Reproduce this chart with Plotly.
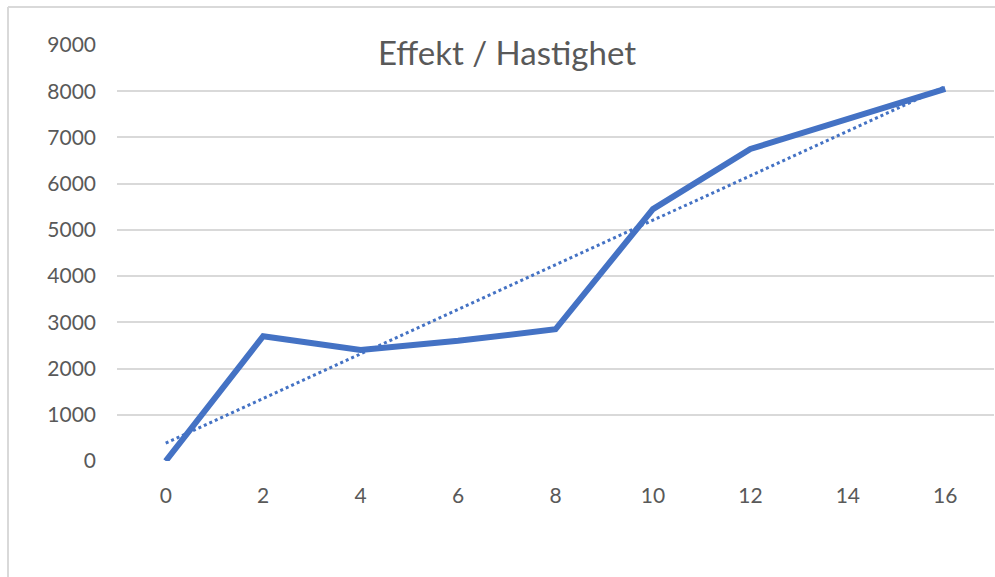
import numpy as np
import plotly.graph_objects as go

# Speed (x) vs. power (y)
hastighet = [0, 2, 4, 6, 8, 10, 12, 14, 16]
effekt = [0, 2700, 2400, 2600, 2850, 5450, 6750, 7400, 8050]
x_ticks = [0, 2, 4, 6, 8, 10, 12, 14, 16]
y_ticks = [0, 1000, 2000, 3000, 4000, 5000, 6000, 7000, 8000, 9000]
title_text = "Effekt / Hastighet"

# Linear trend line (least squares) over the same points
slope, intercept = np.polyfit(hastighet, effekt, 1)
trend_x = [hastighet[0], hastighet[-1]]
trend_y = [intercept + slope * v for v in trend_x]

W, H = 995, 577
ML, MR, MT, MB = 117, 1, 45, 116
plot_w = W - ML - MR
plot_h = H - MT - MB


def px_x(p):
    return (p - ML) / plot_w


def px_y(p):
    return (H - MB - p) / plot_h


blue = "#4472C4"
grey_text = "#595959"
grid = "#d9d9d9"

fig = go.Figure()
fig.add_trace(go.Scatter(
    x=hastighet, y=effekt, mode="lines",
    line=dict(color=blue, width=6, shape="linear"),
    showlegend=False, hoverinfo="x+y",
))
fig.add_trace(go.Scatter(
    x=trend_x, y=trend_y, mode="lines",
    line=dict(color=blue, width=3, dash="dot"),
    showlegend=False, hoverinfo="skip",
))

fig.update_layout(
    width=W, height=H,
    margin=dict(l=ML, r=MR, t=MT, b=MB),
    paper_bgcolor="white", plot_bgcolor="white",
    font=dict(family="Lato, 'Open Sans', sans-serif", color=grey_text, size=21),
    xaxis=dict(
        range=[-1, 17], tickvals=x_ticks, showgrid=False, zeroline=False,
        showline=False, ticks="", ticklabelstandoff=20,
        tickfont=dict(size=21, color=grey_text),
    ),
    yaxis=dict(
        range=[0, 9000], tickvals=y_ticks, showgrid=True, gridcolor=grid,
        gridwidth=2, zeroline=False, showline=False, ticks="",
        ticklabelstandoff=20, tickfont=dict(size=21, color=grey_text),
    ),
    shapes=[
        dict(type="line", xref="paper", yref="paper",
             x0=px_x(8), x1=px_x(1010), y0=px_y(7), y1=px_y(7),
             line=dict(color=grid, width=2)),
        dict(type="line", xref="paper", yref="paper",
             x0=px_x(8), x1=px_x(8), y0=px_y(7), y1=px_y(590),
             line=dict(color=grid, width=2)),
    ],
    annotations=[
        dict(text=title_text, xref="paper", yref="paper",
             x=px_x(507), y=px_y(52), xanchor="center", yanchor="middle",
             showarrow=False, font=dict(size=33, color=grey_text)),
    ],
)

fig.write_html("out.html")
